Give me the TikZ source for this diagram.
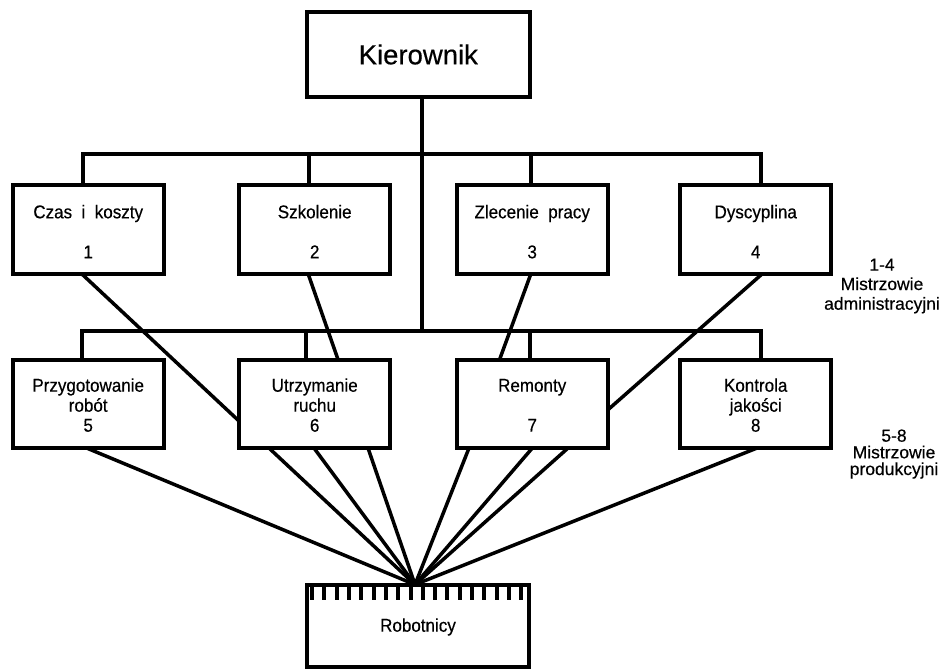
\documentclass[tikz,border=0pt]{standalone}
\usepackage{fontspec}
\setmainfont{Liberation Sans}[FakeBold=0.4]
\newfontfamily\boxfont{Liberation Sans}[FakeStretch=0.92,FakeBold=0.4]
\usetikzlibrary{calc}
\pgfdeclarelayer{bg}
\pgfsetlayers{bg,main}

\begin{document}
\begin{tikzpicture}[x=1pt,y=-1pt,
  frame/.style={draw=black, line width=4pt, fill=white, inner sep=0pt, outer sep=0pt},
  headbox/.style={frame, minimum width=222.7pt, minimum height=85pt,
    font=\fontsize{27.5}{30}\selectfont},
  unitbox/.style={frame, minimum width=151pt, minimum height=89pt},
  prodbox/.style={frame, minimum width=151pt, minimum height=87.7pt},
  crewbox/.style={frame, minimum width=221.7pt, minimum height=82pt},
  link/.style={line width=4pt, line join=miter},
  feed/.style={line width=3.5pt},
  tickmark/.style={line width=4pt},
  boxtext/.style={anchor=base, inner sep=0pt, font=\boxfont\fontsize{18.5}{20}\selectfont},
  side/.style={anchor=base, inner sep=0pt, font=\fontsize{17.5}{19}\selectfont},
]
\useasboundingbox (0,0) rectangle (945,669);

% boxes
\node[headbox] (k) at (418.3,54.5) {Kierownik};

\node[unitbox] (b1) at (88.2,229.8) {};
\node[unitbox] (b2) at (314.7,229.8) {};
\node[unitbox] (b3) at (532.2,229.8) {};
\node[unitbox] (b4) at (755.7,229.8) {};

\node[prodbox] (b5) at (88.2,404.2) {};
\node[prodbox] (b6) at (314.7,404.2) {};
\node[prodbox] (b7) at (532.2,404.2) {};
\node[prodbox] (b8) at (755.7,404.2) {};

\node[crewbox] (rob) at (418,625.6) {};

% bus junctions
\coordinate (top-bus-w) at (83,154.3);
\coordinate (top-bus-e) at (761.3,154.3);
\coordinate (d2) at (309,154.3);
\coordinate (d3) at (530.7,154.3);
\coordinate (trunk) at (421.5,331);
\coordinate (mid-bus-w) at (82.3,331);
\coordinate (mid-bus-e) at (761,331);
\coordinate (e2) at (306.3,331);
\coordinate (e3) at (530.3,331);
\coordinate (focus) at ([xshift=-3pt]rob.north);

\begin{pgfonlayer}{bg}
  % line organisation
  \draw[link] (k.south -| trunk) -- (trunk);
  \draw[link] (b1.north -| top-bus-w) -- (top-bus-w) -- (top-bus-e) -- (b4.north -| top-bus-e);
  \draw[link] (d2) -- (b2.north -| d2);
  \draw[link] (d3) -- (b3.north -| d3);
  \draw[link] (b5.north -| mid-bus-w) -- (mid-bus-w) -- (mid-bus-e) -- (b8.north -| mid-bus-e);
  \draw[link] (e2) -- (b6.north -| e2);
  \draw[link] (e3) -- (b7.north -| e3);

  % functional links between the two rows
  \draw[feed] ([xshift=-6pt]b1.south) -- ([yshift=-17pt]b6.west);
  \draw[feed] ([xshift=-6.4pt]b2.south) -- ([xshift=23.6pt]b6.north);
  \draw[feed] ([xshift=-1.5pt]b3.south) -- ([xshift=-32.9pt]b7.north);
  \draw[feed] ([xshift=6pt]b4.south) -- ([yshift=-5.8pt]b7.east);

  % fan of orders down to the workers
  \foreach \n/\dx in {b5/-1.5, b6/-45.7, b6/-0.7, b6/53.3, b7/-63.2, b7/0.1, b7/35.8, b8/1.3}
    \draw[feed] ([xshift=\dx pt]\n.south) -- (focus);
\end{pgfonlayer}

% comb along the top of the workers' box
\foreach \i in {0,...,17}
  \draw[tickmark] ([xshift=5pt+\i*12.3pt]rob.north west) -- ++(0,15);

% box texts
\node[boxtext] (t1a) at ([yshift=11.5pt]b1.center) {Czas\ \ i\ \ koszty};
\node[boxtext] (t1b) at ([yshift=-28.5pt]b1.center) {1};
\node[boxtext] (t2a) at ([yshift=11.5pt]b2.center) {Szkolenie};
\node[boxtext] (t2b) at ([yshift=-28.5pt]b2.center) {2};
\node[boxtext] (t3a) at ([yshift=11.5pt]b3.center) {Zlecenie\ \ pracy};
\node[boxtext] (t3b) at ([yshift=-28.5pt]b3.center) {3};
\node[boxtext] (t4a) at ([yshift=11.5pt]b4.center) {Dyscyplina};
\node[boxtext] (t4b) at ([yshift=-28.5pt]b4.center) {4};

\node[boxtext] (t5a) at ([yshift=12.5pt]b5.center) {Przygotowanie};
\node[boxtext] (t5b) at ([yshift=-7.5pt]b5.center) {robót};
\node[boxtext] (t5c) at ([yshift=-27.5pt]b5.center) {5};
\node[boxtext] (t6a) at ([yshift=12.5pt]b6.center) {Utrzymanie};
\node[boxtext] (t6b) at ([yshift=-7.5pt]b6.center) {ruchu};
\node[boxtext] (t6c) at ([yshift=-27.5pt]b6.center) {6};
\node[boxtext] (t7a) at ([yshift=12.5pt]b7.center) {Remonty};
\node[boxtext] (t7c) at ([yshift=-27.5pt]b7.center) {7};
\node[boxtext] (t8a) at ([yshift=12.5pt]b8.center) {Kontrola};
\node[boxtext] (t8b) at ([yshift=-7.5pt]b8.center) {jakości};
\node[boxtext] (t8c) at ([yshift=-27.5pt]b8.center) {8};

\node[boxtext] (trob) at ([yshift=-6.1pt]rob.center) {Robotnicy};

% side notes
\node[side] (s1a) at (882,270.7) {1-4};
\node[side] (s1b) at (882,290) {Mistrzowie};
\node[side] (s1c) at (882,309.7) {administracyjni};
\node[side] (s2a) at (894,441.7) {5-8};
\node[side] (s2b) at (894,458.3) {Mistrzowie};
\node[side] (s2c) at (894,475) {produkcyjni};
\end{tikzpicture}
\end{document}
